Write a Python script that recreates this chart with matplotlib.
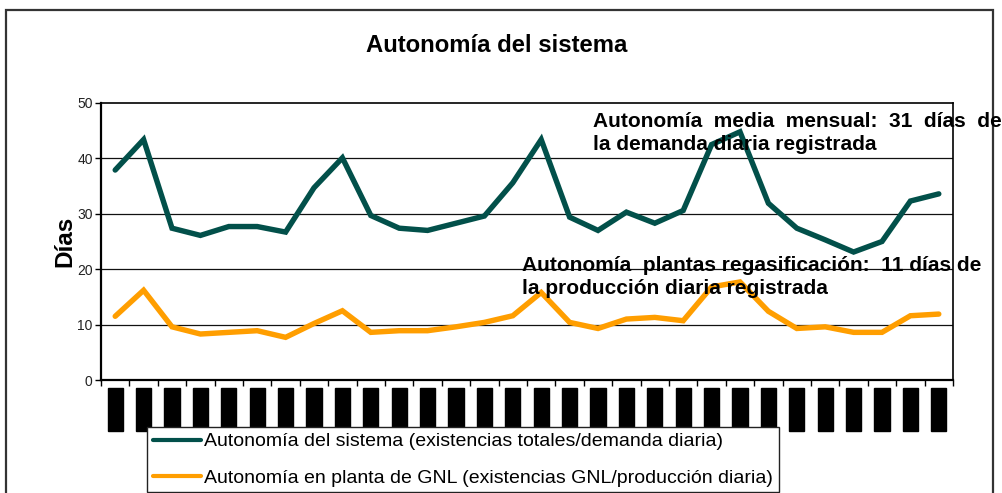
import numpy as np
import matplotlib
matplotlib.use("Agg")
import matplotlib.pyplot as plt
from matplotlib import font_manager
from matplotlib.patches import Rectangle
from matplotlib.lines import Line2D

# ---------------- data ----------------
months = ["ene05", "feb05", "mar05", "abr05", "may05", "jun05", "jul05", "ago05",
          "sep05", "oct05", "nov05", "dic05", "ene06", "feb06", "mar06", "abr06",
          "may06", "jun06", "jul06", "ago06", "sep06", "oct06", "nov06", "dic06",
          "ene07", "feb07", "mar07", "abr07", "may07", "jun07"]
sistema = [37.9, 43.4, 27.4, 26.1, 27.7, 27.7, 26.7, 34.7, 40.1, 29.7,
           27.4, 27.0, 28.3, 29.6, 35.6, 43.4, 29.4, 27.0, 30.3, 28.3,
           30.6, 42.5, 44.8, 31.9, 27.4, 25.3, 23.1, 25.0, 32.3, 33.6]
planta = [11.5, 16.2, 9.6, 8.3, 8.6, 8.9, 7.7, 10.2, 12.5, 8.6,
          8.9, 8.9, 9.6, 10.4, 11.6, 15.8, 10.4, 9.3, 11.0, 11.3,
          10.7, 16.8, 17.7, 12.4, 9.3, 9.6, 8.6, 8.6, 11.6, 11.9]
yticks = [0, 10, 20, 30, 40, 50]
title = "Autonomía del sistema"
ylabel = "Días"
label_sis = "Autonomía del sistema (existencias totales/demanda diaria)"
label_pla = "Autonomía en planta de GNL (existencias GNL/producción diaria)"
note1 = "Autonomía  media  mensual:  31  días  de\nla demanda diaria registrada"
note2 = "Autonomía  plantas regasificación:  11 días de\nla producción diaria registrada"

GREEN = "#02504A"
ORANGE = "#FF9E00"

W, H = 1002, 493
fig = plt.figure(figsize=(W / 100, H / 100), dpi=100)
plt.rcParams['font.family'] = ['Liberation Sans', 'DejaVu Sans']

names = {f.name for f in font_manager.fontManager.ttflist}
if 'Liberation Sans Narrow' in names:
    leg_font = dict(family=['Liberation Sans Narrow', 'DejaVu Sans'], size=15.5)
else:
    leg_font = dict(family=['Liberation Sans', 'DejaVu Sans'], size=14)

def fx(px):
    return px / W

def fy(py):
    return 1 - py / H

ax = fig.add_axes([fx(101), fy(380), fx(953) - fx(101), fy(103) - fy(380)])
x = np.arange(len(months))
ax.plot(x, sistema, color=GREEN, lw=3.9, solid_joinstyle='miter', solid_capstyle='round', zorder=3)
ax.plot(x, planta, color=ORANGE, lw=3.9, solid_joinstyle='miter', solid_capstyle='round', zorder=3)

ax.set_xlim(-0.5, len(months) - 0.5)
ax.set_ylim(0, 50)
ax.set_yticks(yticks)
ax.set_yticklabels([str(v) for v in yticks], fontsize=10, color='#222')
ax.tick_params(axis='y', direction='out', length=4, width=1, pad=2)

# category boundary ticks
ax.set_xticks(np.arange(-0.5, len(months), 1))
ax.set_xticklabels([])
ax.tick_params(axis='x', which='major', direction='out', length=4, width=1)
# labels (rendered as black blocks, as in the original)
ax.set_xticks(x, minor=True)
ax.set_xticklabels(months, minor=True, rotation=90, fontsize=10,
                   family='DejaVu Sans Mono', color='black')
ax.tick_params(axis='x', which='minor', length=0, pad=6)
for t in ax.get_xticklabels(minor=True):
    t.set_bbox(dict(boxstyle='square,pad=0.04', facecolor='black', edgecolor='black'))

for v in yticks[1:-1]:
    ax.axhline(v, color='#111', lw=0.9, zorder=1)
for s in ax.spines.values():
    s.set_color('black')
    s.set_linewidth(1.2)
ax.spines['left'].set_linewidth(1.6)
ax.spines['bottom'].set_linewidth(1.6)

ax.set_ylabel(ylabel, fontsize=17.5, fontweight='bold', labelpad=0.5)

fig.text(fx(497), fy(46), title, ha='center', va='center', fontsize=17.2, fontweight='bold')

fig.text(fx(593), fy(112), note1, ha='left', va='top', fontsize=15, fontweight='bold',
         linespacing=1.3, zorder=5)
fig.text(fx(522), fy(256), note2, ha='left', va='top', fontsize=15, fontweight='bold',
         linespacing=1.3, zorder=5)

handles = [Line2D([], [], color=GREEN, lw=3, solid_capstyle='round'),
           Line2D([], [], color=ORANGE, lw=3, solid_capstyle='round')]
leg = fig.legend(handles, [label_sis, label_pla], loc='upper left',
                 bbox_to_anchor=(fx(147), fy(427)), borderaxespad=0, frameon=True,
                 fancybox=False, shadow=False, framealpha=1, edgecolor='#222',
                 prop=leg_font, handlelength=2.5, handletextpad=0.15,
                 labelspacing=0.95, borderpad=0.3)
leg.get_frame().set_linewidth(1.0)

# outer chart border
fig.patches.append(Rectangle((fx(6), -0.2), fx(993) - fx(6), fy(10) + 0.2, fill=False,
                             edgecolor='#333', lw=1.6, transform=fig.transFigure,
                             clip_on=False))

fig.savefig("out.png", dpi=100)
